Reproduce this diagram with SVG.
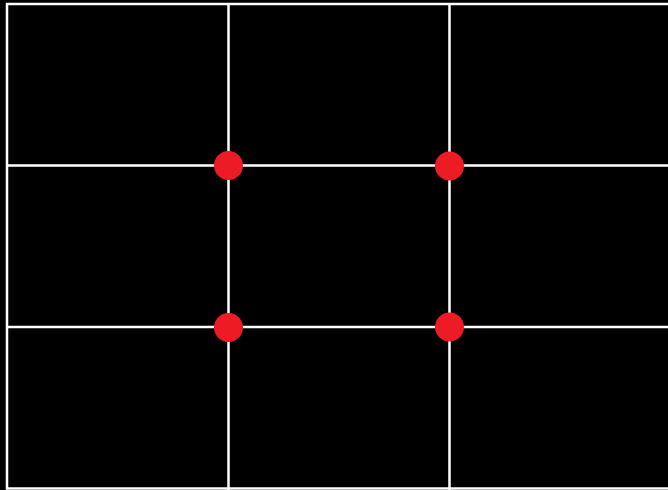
<svg xmlns="http://www.w3.org/2000/svg" width="668" height="490" viewBox="0 0 668 490">
<style>
.ln{stroke:#ffffff;stroke-width:2.5;fill:none}
.dot{fill:#ed1c24}
</style>
<rect x="0" y="0" width="668" height="490" fill="#000"/>
<g id="connectors">
<rect class="ln" x="7" y="4" width="664" height="484.5"/>
<line class="ln" x1="228.5" y1="4" x2="228.5" y2="490"/>
<line class="ln" x1="449.5" y1="4" x2="449.5" y2="490"/>
<line class="ln" x1="7" y1="165.5" x2="668" y2="165.5"/>
<line class="ln" x1="7" y1="327" x2="668" y2="327"/>
</g>
<g id="dot-tl"><circle class="dot" cx="228.5" cy="165.5" r="14.5"/></g>
<g id="dot-tr"><circle class="dot" cx="449.5" cy="166" r="14.5"/></g>
<g id="dot-bl"><circle class="dot" cx="228.5" cy="327.5" r="14.5"/></g>
<g id="dot-br"><circle class="dot" cx="449.5" cy="327" r="14.5"/></g>
</svg>
